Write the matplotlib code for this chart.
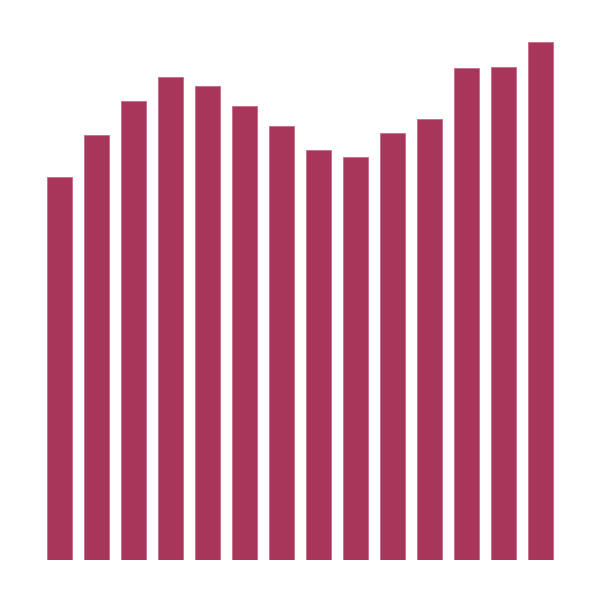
import matplotlib
matplotlib.use("Agg")
import matplotlib.pyplot as plt

categories = list(range(1, 15))
values = [383, 425, 459, 483, 474, 454, 434, 410, 403, 427, 441, 492, 493, 518]

fig = plt.figure(figsize=(6, 6.09), dpi=100)
W, H = 600, 609
ax = fig.add_axes([41 / W, 49 / H, 518.5 / W, 560 / H])
ax.bar(range(len(categories)), values, width=0.675, color="#A8355A",
       edgecolor="#c86a88", linewidth=0.6)
ax.set_xlim(-0.5, len(categories) - 0.5)
ax.set_ylim(0, 560)
ax.axis("off")
fig.savefig("out.png", dpi=100, facecolor="white")
